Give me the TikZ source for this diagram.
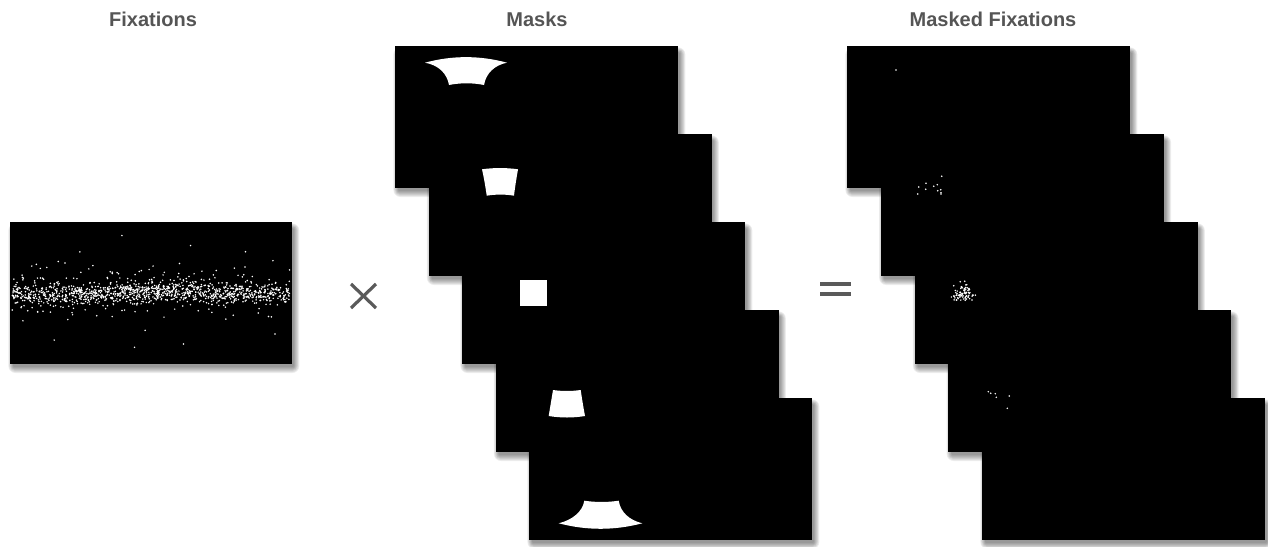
\documentclass[tikz,border=0pt]{standalone}
\usepackage{fontspec}
\setmainfont{Liberation Sans}
\definecolor{titlegray}{HTML}{555555}
\definecolor{signgray}{HTML}{5A5A5A}
\tikzset{
  imgframe/.style={fill=black, draw=none, inner sep=0pt, outer sep=0pt,
    minimum width=283pt, minimum height=142pt, anchor=north west},
  titletext/.style={font=\bfseries\fontsize{20}{24}\selectfont, text=titlegray, anchor=base},
  signline/.style={draw=signgray, line width=3.2pt},
  maskshape/.style={fill=white, draw=none},
}
\newcommand\softshadow[4]{%
  \foreach \r in {1,...,7}{%
    \fill[black,opacity=0.07,rounded corners=\r pt]
      ({#1+4-0.8*\r},{#2+7-0.8*\r}) rectangle ({#3+1+0.9*\r},{#4+2+\r});
  }%
}
\newcommand\wdot[2]{\fill[white] (#1,#2) circle[radius=0.85pt];}
\begin{document}
\begin{tikzpicture}[x=1pt,y=-1pt]
\useasboundingbox (0,0) rectangle (1268,546);

% titles
\node[titletext] (tfix) at (153,26) {Fixations};
\node[titletext] (tmask) at (537,26) {Masks};
\node[titletext] (tmf) at (993,26) {Masked Fixations};

% fixations image
\softshadow{10}{222}{292}{364}
\node[imgframe, minimum width=282pt] (fix) at (10,222) {};
\begin{scope}
  \clip (fix.north west) rectangle (fix.south east);
  \pgfmathsetseed{7}
  \foreach \i in {1,...,950}{
    \pgfmathsetmacro\px{12+278*rnd}
    \pgfmathsetmacro\py{293+1.5*sin(\px*1.6)+5*(rand+rand+rand)}
    \wdot{\px}{\py}
  }
  \foreach \i in {1,...,280}{
    \pgfmathsetmacro\px{12+278*rnd}
    \pgfmathsetmacro\py{291+12*(rand+rand+rand)}
    \wdot{\px}{\py}
  }
  \foreach \i in {1,...,25}{
    \pgfmathsetmacro\px{20+268*rnd}
    \pgfmathsetmacro\py{292+58*rand}
    \wdot{\px}{\py}
  }
\end{scope}

% multiplication sign
\draw[signline] (351,284) -- (376,308);
\draw[signline] (351,308) -- (376,284);

% masks stack
\foreach \i in {0,...,4}{
  \pgfmathsetmacro\mx{395+33.5*\i}
  \pgfmathsetmacro\my{46+88*\i}
  \softshadow{\mx}{\my}{\mx+283}{\my+142}
  \node[imgframe] (mask\i) at (\mx,\my) {};
}
% mask shapes
\fill[maskshape] (425,62.7) .. controls (452,55.3) and (480,55.3) .. (507,62.7)
  .. controls (495,65) and (486,73) .. (484,85)
  .. controls (472,82.7) and (461,82.7) .. (449,85)
  .. controls (447,73) and (438,65) .. (425,62.7) -- cycle;
\fill[maskshape] (482,169.3) .. controls (494,167.6) and (506,167.6) .. (518,169.3)
  .. controls (516.5,178) and (515,187) .. (514,195.7)
  .. controls (505,194.2) and (496,194.2) .. (486.7,195.7)
  .. controls (485.5,187) and (484,178) .. (482,169.3) -- cycle;
\fill[maskshape] (520,279.5) rectangle (547,306);
\fill[maskshape] (553,390) .. controls (562,391.3) and (571.5,391.3) .. (580.7,390)
  .. controls (582,399) and (583.5,408) .. (585,416)
  .. controls (573,418) and (561,418) .. (548.7,416)
  .. controls (550,408) and (551.5,399) .. (553,390) -- cycle;
\fill[maskshape] (584.3,500.7) .. controls (596,502.4) and (607,502.4) .. (618.7,500.7)
  .. controls (620.5,512) and (629,520) .. (642.3,523.3)
  .. controls (614,530.6) and (587,530.6) .. (558.7,523.3)
  .. controls (572,520) and (582.5,512) .. (584.3,500.7) -- cycle;

% equals sign
\draw[signline] (820,284) -- (851,284);
\draw[signline] (820,294) -- (851,294);

% masked fixations stack
\foreach \i in {0,...,4}{
  \pgfmathsetmacro\mx{847+33.75*\i}
  \pgfmathsetmacro\my{46+88*\i}
  \softshadow{\mx}{\my}{\mx+283}{\my+142}
  \node[imgframe] (mf\i) at (\mx,\my) {};
}
% dots in masked fixations
\wdot{896}{70}
\foreach \p/\q in {941.7/176.3, 926/183.3, 937.3/184.7, 918.7/187, 933.7/186.3,
  925.7/189.3, 937.7/190.7, 940.7/189.7, 941/192.7, 917.7/194, 941/194}{
  \wdot{\p}{\q}
}
\pgfmathsetseed{21}
\foreach \i in {1,...,80}{
  \pgfmathsetmacro\px{963+4.6*(rand+rand+rand)}
  \pgfmathsetmacro\py{293+4.6*(rand+rand+rand)}
  \wdot{\px}{\py}
}
\foreach \p/\q in {988.3/391.7, 990.7/393.3, 995.3/393.7, 996.3/397.3, 1009.3/396, 1007.3/408.3}{
  \wdot{\p}{\q}
}
\end{tikzpicture}
\end{document}
